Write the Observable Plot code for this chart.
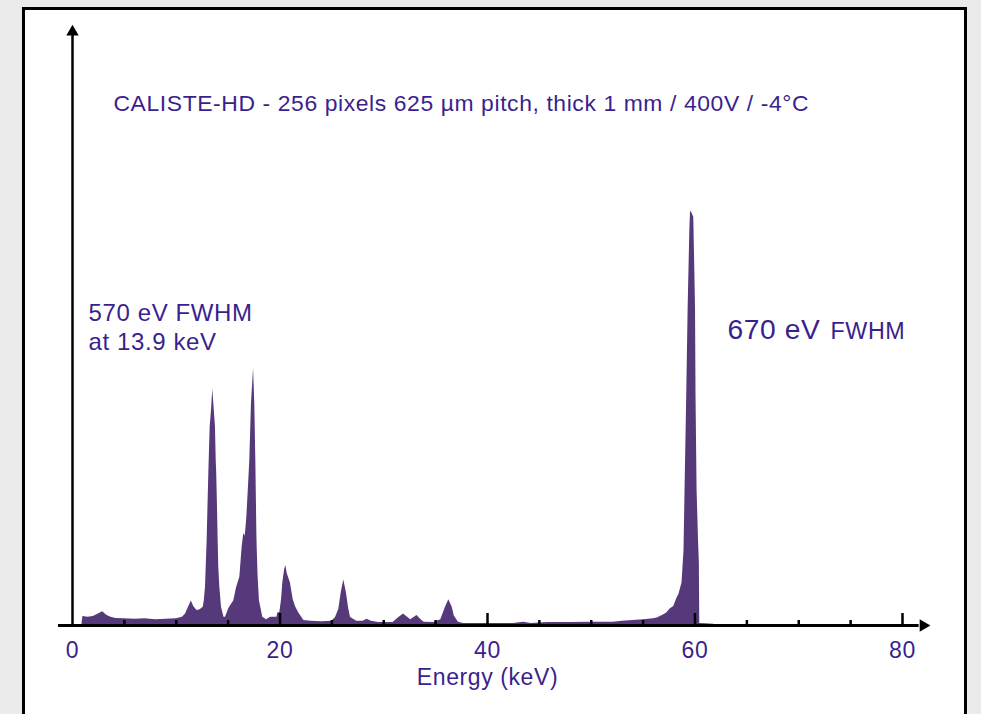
<!DOCTYPE html>
<html>
<head>
<meta charset="utf-8">
<script src="https://cdn.jsdelivr.net/npm/d3@7"></script>
<script src="https://cdn.jsdelivr.net/npm/@observablehq/plot@0.6"></script>
<style>
  html, body { margin: 0; padding: 0; background: #ebebeb; width: 981px; height: 714px; overflow: hidden; }
  #frame { position: absolute; left: 22px; top: 7px; width: 939px; height: 720px; border: 3px solid #000; background: #fff; }
  #chart { position: absolute; left: 0; top: 0; }
</style>
</head>
<body>
<div id="frame"></div>
<div id="chart"></div>
<script>
// Spectrum: energy (keV) and counts (arbitrary units, 59.5 keV peak = 1000)
const energy = [0.9, 1.0, 1.5, 2.0, 2.5, 2.9, 3.3, 3.7, 4.2, 5.0, 6.0, 7.0, 8.0, 9.0, 10.0, 10.6, 10.9, 11.2, 11.45, 11.7,
  12.0, 12.3, 12.6, 12.7, 12.82, 12.9, 12.98, 13.06, 13.14, 13.2, 13.27, 13.4, 13.52, 13.62, 13.78, 13.85, 13.9, 13.98, 14.04, 14.1,
  14.2, 14.36, 14.6, 14.75, 15.07, 15.3, 15.55, 15.8, 16.13, 16.35, 16.51, 16.65, 16.8, 16.95, 17.09, 17.25, 17.45, 17.57, 17.67, 17.77,
  17.8, 17.89, 18.02, 18.34, 18.7, 19.1, 19.7, 19.8, 19.98, 20.15, 20.27, 20.45, 20.56, 20.7, 21.0, 21.27, 21.5, 21.8, 22.3, 23.0,
  24.0, 25.0, 25.35, 25.67, 25.9, 26.15, 26.4, 26.63, 26.8, 27.4, 28.0, 28.4, 28.8, 29.5, 30.9, 31.4, 31.9, 32.3, 32.6, 33.2,
  33.6, 33.9, 34.8, 35.5, 35.95, 36.27, 36.6, 36.8, 37.2, 37.7, 40.0, 42.5, 43.5, 44.2, 45.8, 48.0, 50.0, 52.1, 53.0, 55.07,
  56.0, 56.35, 57.0, 57.3, 57.6, 57.95, 58.3, 58.45, 58.75, 58.94, 59.04, 59.2, 59.34, 59.5, 59.57, 59.7, 59.88, 59.95, 60.05, 60.1,
  60.2, 60.34, 60.42, 60.46, 61.0, 61.8, 62.0];
const counts = [0, 22, 20, 22, 28, 33, 25, 20, 17, 16, 15, 16, 14, 15, 16, 20, 28, 45, 59, 45,
  36, 38, 44, 60, 93, 150, 205, 290, 367, 420, 479, 520, 570, 535, 479, 400, 367, 280, 205, 140,
  93, 44, 20, 20, 41, 50, 60, 90, 117, 189, 222, 215, 260, 330, 398, 535, 620, 535, 398, 222,
  189, 117, 60, 20, 14, 20, 20, 31, 31, 63, 103, 135, 145, 125, 103, 63, 45, 31, 12, 10,
  9, 10, 19, 39, 79, 110, 79, 39, 19, 10, 10, 15, 10, 7, 7, 18, 28, 20, 14, 24,
  14, 8, 7, 14, 44, 62, 44, 23, 8, 5, 5, 5, 8, 5, 7, 7, 8, 8, 10, 14,
  16, 18, 26, 31, 40, 46, 68, 75, 103, 180, 326, 551, 768, 950, 1000, 995, 985, 900, 768, 551,
  326, 205, 150, 5, 4, 3, 0];

const majorTicks = [20, 40, 60, 80];
const minorTicks = [5, 10, 15, 25, 30, 35, 45, 50, 55, 65, 70, 75];
const tickLabels = [0, 20, 40, 60, 80];

const titleText = "CALISTE-HD - 256 pixels 625 µm pitch, thick 1 mm / 400V / -4°C";
const leftNote = "570 eV FWHM\nat 13.9 keV";
const rightNoteBig = "670 eV";
const rightNoteSmall = "FWHM";
const xLabel = "Energy (keV)";

const spectrum = energy.map((e, i) => ({energy: e, counts: counts[i]}));

const ink = "#3b1f8e";
const fillColor = "#56397b";

const chart = Plot.plot({
  width: 981,
  height: 714,
  marginLeft: 72,
  marginRight: 79,
  marginTop: 28,
  marginBottom: 89,
  style: {background: "transparent", fontFamily: "'Liberation Sans', Arial, sans-serif", letterSpacing: "0.6px", overflow: "visible"},
  x: {domain: [0, 80], axis: null},
  y: {domain: [0, 1440], axis: null},
  marks: [
    Plot.areaY(spectrum, {x: "energy", y: "counts", fill: fillColor}),
    // axes lines
    Plot.ruleY([0], {x1: -1.35, x2: 81.6, stroke: "black", strokeWidth: 3}),
    Plot.dot([{x: 82.0, y: 0}], {x: "x", y: "y", symbol: "triangle", rotate: 90, r: 4.6, fill: "black", stroke: "none"}),
    Plot.ruleX([0], {y1: 0, y2: 1425, stroke: "black", strokeWidth: 2.5}),
    Plot.dot([{x: 0, y: 1432}], {x: "x", y: "y", symbol: "triangle", r: 4.6, fill: "black", stroke: "none"}),
    // ticks pointing up
    Plot.axisX({ticks: minorTicks, tickSize: -5, tickFormat: () => "", strokeWidth: 2.5, stroke: "black", label: null}),
    Plot.axisX({ticks: majorTicks, tickSize: -12, tickFormat: () => "", strokeWidth: 2.5, stroke: "black", label: null}),
    Plot.axisX({ticks: tickLabels, tickSize: 0, tickPadding: 16, fontSize: 23, fill: ink, label: null}),
    // texts
    Plot.text([xLabel], {x: 40, frameAnchor: "bottom", dy: 59, text: d => d, fontSize: 23, fill: ink}),
    Plot.text([titleText], {x: 3.95, y: 1259, text: d => d, textAnchor: "start", fontSize: 22.9, fill: ink}),
    Plot.text([leftNote], {x: 1.55, y: 722, text: d => d, textAnchor: "start", fontSize: 24, lineHeight: 1.21, fill: ink}),
    Plot.text([rightNoteBig], {x: 63.13, y: 714, text: d => d, textAnchor: "start", fontSize: 28.2, fill: ink}),
    Plot.text([rightNoteSmall], {x: 73.06, y: 710, text: d => d, textAnchor: "start", fontSize: 23.3, fill: ink})
  ]
});
document.getElementById("chart").appendChild(chart);
</script>
</body>
</html>
